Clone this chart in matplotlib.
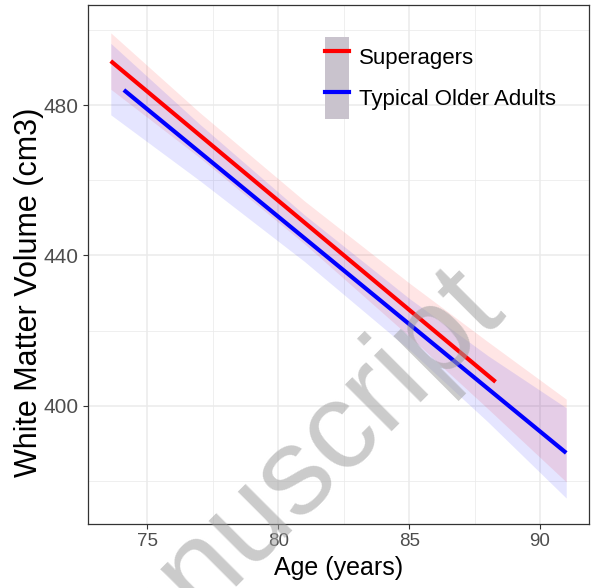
import matplotlib
matplotlib.use("Agg")
import matplotlib.pyplot as plt
from matplotlib.lines import Line2D
from matplotlib.patches import Patch
from matplotlib.ticker import MultipleLocator

plt.rcParams["font.family"] = ["Liberation Sans", "DejaVu Sans"]

# confidence bands
band_age = [73.6, 77.0, 81.0, 85.0, 88.0, 91.0]
super_upper = [499.2, 478.0, 454.5, 432.7, 417.1, 401.8]
super_lower = [484.2, 466.0, 443.1, 418.5, 399.3, 379.8]
typical_upper = [496.4, 474.9, 450.8, 428.6, 413.4, 399.5]
typical_lower = [477.4, 459.9, 438.4, 415.0, 395.8, 375.5]

# fitted lines
super_age = [73.6, 88.3]
super_fit = [491.7, 406.4]
typical_age = [74.1, 91.0]
typical_fit = [484.0, 387.5]

labels = ["Superagers", "Typical Older Adults"]
x_ticks = [75, 80, 85, 90]
y_ticks = [400, 440, 480]

fig = plt.figure(figsize=(5.93, 5.88), dpi=100)
ax = fig.add_axes([88 / 593, 1 - 524 / 588, 501 / 593, 519 / 588])

ax.fill_between(band_age, super_lower, super_upper, color="red", alpha=0.1, linewidth=0)
ax.fill_between(band_age, typical_lower, typical_upper, color="blue", alpha=0.1, linewidth=0)
ax.plot(super_age, super_fit, color="#ff0000", linewidth=3.0, solid_capstyle="butt")
ax.plot(typical_age, typical_fit, color="#0000ff", linewidth=3.0, solid_capstyle="butt")

ax.set_xlim(72.73, 91.87)
ax.set_ylim(368.6, 506.6)
ax.set_xticks(x_ticks)
ax.set_yticks(y_ticks)
ax.xaxis.set_minor_locator(MultipleLocator(2.5))
ax.yaxis.set_minor_locator(MultipleLocator(20))
ax.grid(which="major", color="#ebebeb", linewidth=1.1)
ax.grid(which="minor", color="#ebebeb", linewidth=0.55)
ax.set_axisbelow(True)
ax.tick_params(which="major", length=3.5, width=0.8, color="#333333",
               labelcolor="#4d4d4d", pad=3)
ax.tick_params(axis="x", labelsize=13.5)
ax.tick_params(axis="y", labelsize=15)
ax.tick_params(which="minor", length=0)
for sp in ax.spines.values():
    sp.set_color("#333333")
    sp.set_linewidth(0.9)

ax.set_xlabel("Age (years)", fontsize=18, labelpad=4)
ax.set_ylabel("White Matter Volume (cm3)", fontsize=22)
ax.yaxis.set_label_coords(-0.088, 0.447)

handles = [
    (Patch(facecolor="#c9c3cd", edgecolor="none"),
     Line2D([0], [0], color="#ff0000", linewidth=3.0)),
    (Patch(facecolor="#c9c3cd", edgecolor="none"),
     Line2D([0], [0], color="#0000ff", linewidth=3.0)),
]
ax.legend(handles, labels, loc="upper left",
          bbox_to_anchor=(325 / 593, 1 - 37 / 588), bbox_transform=fig.transFigure,
          frameon=False, fontsize=16, borderpad=0, borderaxespad=0,
          handlelength=1.08, handleheight=2.47, labelspacing=0, handletextpad=0.45)

# watermark
fig.text(270 / 593, 1 - 500 / 588, "manuscript", fontsize=89, color="#a0a0a0", alpha=0.55,
         rotation=45, ha="center", va="center")

fig.savefig("out.png", dpi=100, facecolor="white")
